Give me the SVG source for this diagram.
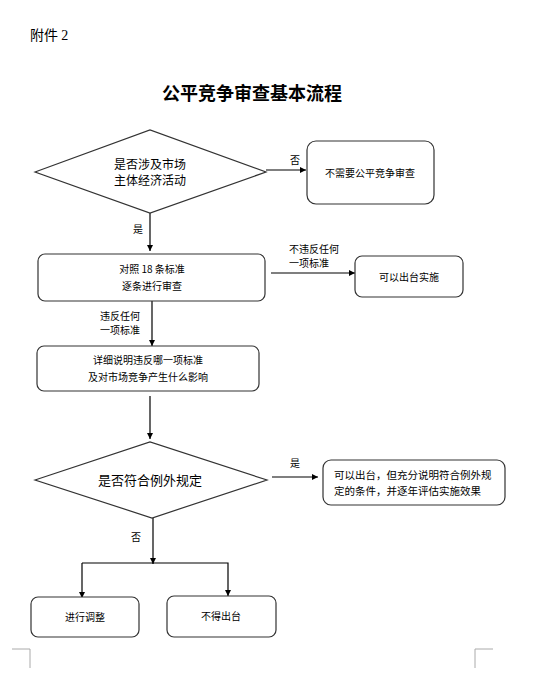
<svg xmlns="http://www.w3.org/2000/svg" width="539" height="680" viewBox="0 0 539 680">
<style>
text{font-family:"Noto Sans CJK SC","Liberation Sans",sans-serif;fill:#000}
.shape{fill:#fff;stroke:#333;stroke-width:1.2}
.line{fill:none;stroke:#000;stroke-width:1.2}
.t10{font-size:10px}
.t12{font-size:12px}
.lbl{font-size:10px}
.mid{text-anchor:middle}
.mark{fill:none;stroke:#aaa;stroke-width:1}
</style>
<defs>
<marker id="ah" viewBox="0 0 10 10" refX="10" refY="5" markerWidth="6" markerHeight="6" orient="auto" markerUnits="userSpaceOnUse">
<path d="M0,0 L10,5 L0,10 Z" fill="#000"/>
</marker>
</defs>
<rect width="539" height="680" fill="#fff"/>
<text x="30" y="40" style="font-size:14px;font-family:'Noto Sans CJK SC','Liberation Serif',serif">附件 <tspan style="font-family:'Liberation Serif',serif">2</tspan></text>
<text x="252" y="100" class="mid" style="font-size:18px;font-weight:bold">公平竞争审查基本流程</text>

<g id="connectors">
<line class="line" x1="266" y1="170" x2="306" y2="170" marker-end="url(#ah)"/>
<line class="line" x1="150" y1="213" x2="150" y2="251" marker-end="url(#ah)"/>
<line class="line" x1="271" y1="273" x2="355" y2="273" marker-end="url(#ah)"/>
<line class="line" x1="152" y1="301" x2="152" y2="346" marker-end="url(#ah)"/>
<line class="line" x1="150" y1="396" x2="150" y2="439" marker-end="url(#ah)"/>
<line class="line" x1="272" y1="477" x2="318" y2="477" marker-end="url(#ah)"/>
<line class="line" x1="153" y1="518" x2="153" y2="564" marker-end="url(#ah)"/>
<polyline class="line" points="82,563 228,563 228,596" marker-end="url(#ah)"/>
<line class="line" x1="82" y1="563" x2="82" y2="598" marker-end="url(#ah)"/>
<text x="290" y="164" class="lbl">否</text>
<text x="133" y="233" class="lbl">是</text>
<text x="289" y="253" class="lbl">不违反任何</text>
<text x="289" y="267" class="lbl">一项标准</text>
<text x="100" y="320" class="lbl">违反任何</text>
<text x="100" y="334" class="lbl">一项标准</text>
<text x="290" y="467" class="lbl">是</text>
<text x="131" y="541" class="lbl">否</text>
</g>

<g id="n1">
<polygon class="shape" points="35,172 150,130 266,172 150,213"/>
<text x="150" y="169" class="t12 mid">是否涉及市场</text>
<text x="150" y="185" class="t12 mid">主体经济活动</text>
</g>
<g id="n2">
<rect class="shape" x="307" y="141" width="127" height="63" rx="9"/>
<text x="370" y="177" class="t10 mid">不需要公平竞争审查</text>
</g>
<g id="n3">
<rect class="shape" x="38" y="254" width="227" height="47" rx="7"/>
<text x="152" y="273" class="t10 mid">对照 18 条标准</text>
<text x="152" y="290" class="t10 mid">逐条进行审查</text>
</g>
<g id="n4">
<rect class="shape" x="355" y="256" width="108" height="41" rx="7"/>
<text x="409" y="281" class="t10 mid">可以出台实施</text>
</g>
<g id="n5">
<rect class="shape" x="37" y="346" width="222" height="45" rx="7"/>
<text x="148" y="364" class="t10 mid">详细说明违反哪一项标准</text>
<text x="148" y="381" class="t10 mid">及对市场竞争产生什么影响</text>
</g>
<g id="n6">
<polygon class="shape" points="35,480 150,442 267,480 152,518"/>
<text x="150" y="485" class="t12 mid" style="font-size:13px">是否符合例外规定</text>
</g>
<g id="n7">
<rect class="shape" x="323" y="460" width="182" height="45" rx="8"/>
<text x="334" y="479" class="t10" style="font-size:10.5px">可以出台，但充分说明符合例外规</text>
<text x="334" y="495" class="t10" style="font-size:10.5px">定的条件，并逐年评估实施效果</text>
</g>
<g id="n8">
<rect class="shape" x="31" y="597" width="108" height="40" rx="7"/>
<text x="85" y="621" class="t10 mid">进行调整</text>
</g>
<g id="n9">
<rect class="shape" x="167" y="596" width="109" height="41" rx="7"/>
<text x="221" y="620" class="t10 mid">不得出台</text>
</g>

<polyline class="mark" points="12,649 30,649 30,668"/>
<polyline class="mark" points="493,649 475,649 475,668"/>
</svg>
